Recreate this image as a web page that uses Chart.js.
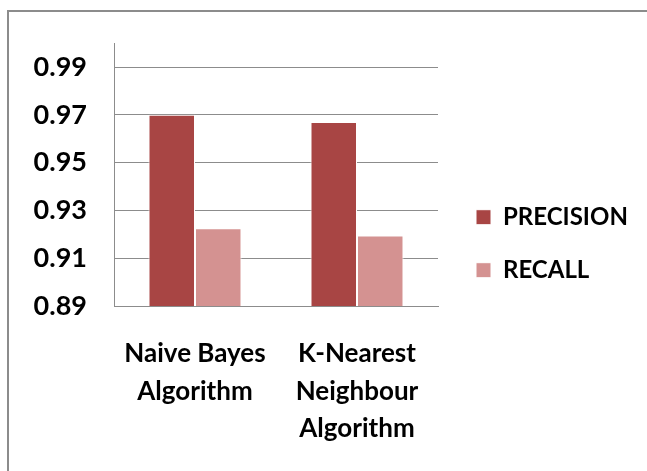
<!DOCTYPE html>
<html>
<head>
<meta charset="utf-8">
<script src="https://cdn.jsdelivr.net/npm/chart.js@4"></script>
<style>
  body { margin: 0; background: #fff; }
  #frame { position: absolute; left: 7px; top: 10px; width: 700px; height: 520px;
           border-left: 2px solid #8c8c8c; border-top: 2px solid #8c8c8c; }
  #wrap { position: absolute; left: 0; top: 0; width: 647px; height: 471px; }
</style>
</head>
<body>
<div id="frame"></div>
<div id="wrap"><canvas id="chart" width="647" height="471"></canvas></div>
<script>
const categories = [['Naive Bayes', 'Algorithm'], ['K-Nearest', 'Neighbour', 'Algorithm']];
const seriesNames = ['PRECISION', 'RECALL'];
const precision = [0.970, 0.967];
const recall = [0.9225, 0.9195];
const tickValues = [0.89, 0.91, 0.93, 0.95, 0.97, 0.99];

const family = 'Lato, "Open Sans", sans-serif';

// legend sits beside the lower half of the plot, a little right of it
const legendShift = {
    id: 'legendShift',
    afterLayout(chart) {
        const lg = chart.legend;
        const pad = lg.options.labels.padding;
        const dx = chart.chartArea.right + 38 - (lg.left + pad);
        const dy = chart.chartArea.top + 162 - (lg.top + pad);
        lg.left += dx;
        lg.right = chart.width;
        lg.width = lg.right - lg.left;
        lg.top += dy; lg.bottom += dy;
    }
};

document.addEventListener("DOMContentLoaded", () => {
    const ctx = document.getElementById('chart').getContext('2d');
    new Chart(ctx, {
        type: 'bar',
        data: {
            labels: categories,
            datasets: [{
                label: seriesNames[0],
                data: precision,
                backgroundColor: '#a84544',
                borderColor: '#ffffff',
                borderWidth: 1
            }, {
                label: seriesNames[1],
                data: recall,
                backgroundColor: '#d49291',
                borderColor: '#ffffff',
                borderWidth: 1
            }]
        },
        options: {
            responsive: false,
            animation: false,
            layout: { padding: { left: 24, top: 42, right: 71, bottom: 0 } },
            plugins: {
                tooltip: { enabled: false },
                legend: {
                    position: 'right',
                    align: 'start',
                    labels: {
                        boxWidth: 15,
                        boxHeight: 15,
                        padding: 29,
                        color: '#000',
                        font: { family: family, size: 24, weight: 'bold' }
                    }
                }
            },
            datasets: {
                bar: { categoryPercentage: 0.574, barPercentage: 1.0 }
            },
            scales: {
                x: {
                    grid: { display: false, drawTicks: false },
                    border: { color: '#8c8c8c', width: 1 },
                    afterFit: scale => { scale.height = 165; },
                    ticks: {
                        padding: 29,
                        color: '#000',
                        maxRotation: 0,
                        font: { family: family, size: 26, weight: 'bold', lineHeight: 1.44 }
                    }
                },
                y: {
                    min: 0.89,
                    max: 1.0,
                    afterBuildTicks: scale => { scale.ticks = tickValues.map(v => ({ value: v })); },
                    afterFit: scale => { scale.width = 90; },
                    grid: { color: '#8c8c8c', drawTicks: false },
                    border: { color: '#8c8c8c', width: 1 },
                    ticks: {
                        padding: 27,
                        color: '#000',
                        font: { family: family, size: 27, weight: 'bold' },
                        callback: value => value.toFixed(2)
                    }
                }
            }
        },
        plugins: [legendShift]
    });
});
</script>
</body>
</html>
